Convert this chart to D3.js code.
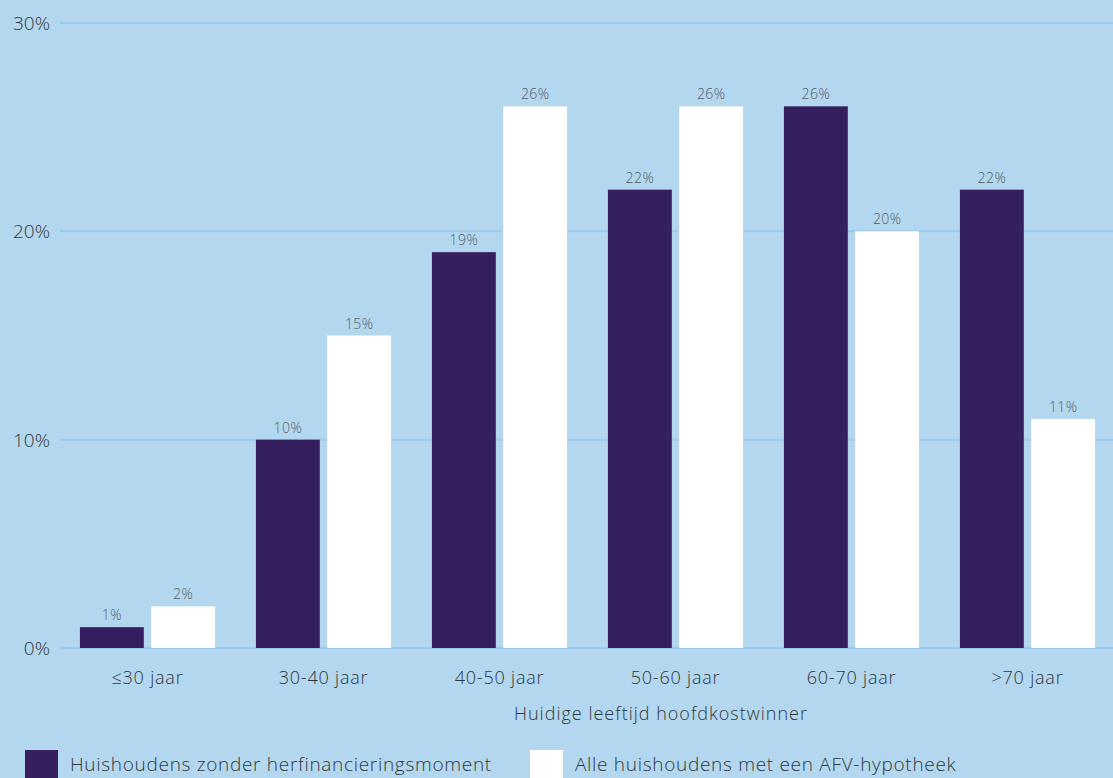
<!DOCTYPE html>
<html><head><meta charset="utf-8">
<script src="https://cdn.jsdelivr.net/npm/d3@7"></script>
<style>
html,body{margin:0;padding:0;background:#b3d7ee;overflow:hidden}
text{font-family:"Open Sans",Lato,sans-serif}
</style></head>
<body><svg id="c" width="1113" height="778"></svg>
<script>
const categories = ["≤30 jaar","30-40 jaar","40-50 jaar","50-60 jaar","60-70 jaar",">70 jaar"];
const seriesNames = ["Huishoudens zonder herfinancieringsmoment","Alle huishoudens met een AFV-hypotheek"];
const seriesA = [1,10,19,22,26,22];
const seriesB = [2,15,26,26,20,11];
const yTicks = [0,10,20,30];
const colors = ["#361f5e","#ffffff"];
const xTitle = "Huidige leeftijd hoofdkostwinner";

const svg = d3.select("#c");
const W=1113,H=778;
svg.append("rect").attr("width",W).attr("height",H).attr("fill","#b3d7ee");

const y = d3.scaleLinear().domain([0,30]).range([648,23]);
const x0 = d3.scaleBand().domain(categories).range([59.5,1115.5]).paddingInner(0.232).paddingOuter(0.116);
const x1 = d3.scaleBand().domain([0,1]).range([0,x0.bandwidth()]).paddingInner(0.104);

// gridlines
svg.append("g").selectAll("line").data(yTicks).join("line")
  .attr("x1",60).attr("x2",W).attr("y1",d=>y(d)).attr("y2",d=>y(d))
  .attr("stroke","#9ccbea").attr("stroke-width",2);
// y labels
svg.append("g").selectAll("text").data(yTicks).join("text")
  .attr("x",50).attr("y",d=>y(d)+7).attr("text-anchor","end")
  .attr("font-size",19).attr("font-weight",300).attr("fill","#2f3840")
  .text(d=>d+"%");

const data = categories.map((c,i)=>({c, vals:[seriesA[i],seriesB[i]]}));
const g = svg.append("g").selectAll("g").data(data).join("g")
  .attr("transform",d=>`translate(${x0(d.c)},0)`);
g.selectAll("rect").data(d=>d.vals.map((v,k)=>({v,k}))).join("rect")
  .attr("x",d=>x1(d.k)).attr("width",x1.bandwidth())
  .attr("y",d=>y(d.v)).attr("height",d=>y(0)-y(d.v))
  .attr("fill",d=>colors[d.k]);
g.selectAll("text").data(d=>d.vals.map((v,k)=>({v,k}))).join("text")
  .attr("x",d=>x1(d.k)+x1.bandwidth()/2).attr("y",d=>y(d.v)-7)
  .attr("text-anchor","middle").attr("font-size",14).attr("font-weight",300).attr("fill","#555d66")
  .attr("letter-spacing",0.4)
  .text(d=>d.v+"%");

// x labels
svg.append("g").selectAll("text").data(categories).join("text")
  .attr("x",d=>x0(d)+x0.bandwidth()/2).attr("y",684).attr("text-anchor","middle")
  .attr("font-size",18).attr("font-weight",300).attr("fill","#2f3840").attr("letter-spacing",0.8)
  .text(d=>d);
svg.append("text").attr("x",661).attr("y",720).attr("text-anchor","middle")
  .attr("font-size",18).attr("font-weight",300).attr("fill","#2f3840").attr("letter-spacing",1)
  .text(xTitle);

// legend
const lx=[25,530];
const lg = svg.append("g").selectAll("g").data(seriesNames).join("g")
  .attr("transform",(d,i)=>`translate(${lx[i]},750)`);
lg.append("rect").attr("width",33).attr("height",30).attr("fill",(d,i)=>colors[i]);
lg.append("text").attr("x",45).attr("y",21).attr("font-size",19).attr("font-weight",300)
  .attr("fill","#2f3840").attr("letter-spacing",0.7).text(d=>d);
</script></body></html>
